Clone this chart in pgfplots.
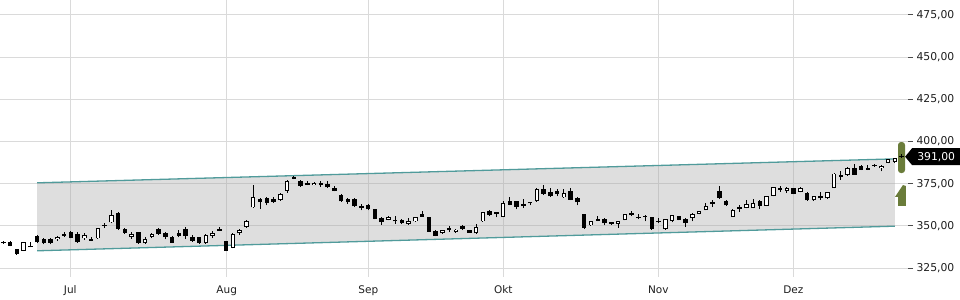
\documentclass[border=0pt]{standalone}
\usepackage{fontspec}
\setmainfont{DejaVu Sans}
\usepackage{pgfplots}
\usepackage{pgfplotstable}
\pgfplotsset{compat=1.18}
\definecolor{chan}{RGB}{80,155,155}
\definecolor{olv}{RGB}{106,124,58}
\definecolor{gridc}{RGB}{218,218,218}
\definecolor{lab}{RGB}{30,30,30}

\pgfplotstableread{
o h l c
340.0 341.0 339.5 339.6
340.3 340.8 337.8 338.1
336.0 336.5 333.0 333.2
335.1 340.5 335.0 340.3
337.8 340.7 337.3 337.3
344.0 344.7 339.8 340.2
342.0 343.0 339.0 339.8
342.0 343.0 339.0 340.0
342.1 344.0 341.3 343.6
345.4 346.3 343.3 344.2
346.2 347.0 342.5 342.7
345.2 346.2 340.0 340.3
342.5 345.5 341.5 344.5
342.0 343.3 341.0 341.1
342.5 349.0 342.3 348.8
350.6 351.5 348.6 350.0
352.0 359.5 351.5 356.5
357.6 358.0 347.5 348.0
348.4 349.0 345.2 346.0
343.3 346.2 342.3 345.2
346.2 346.5 339.5 339.7
339.7 343.3 339.5 342.1
343.6 345.5 342.6 345.2
348.0 348.6 344.6 345.2
345.6 346.2 341.9 343.3
343.3 344.0 339.8 340.1
345.6 347.6 343.1 344.2
348.0 349.6 342.1 344.0
343.6 344.5 340.5 341.1
343.3 343.6 339.5 339.7
339.7 345.0 339.5 344.8
344.0 346.9 342.7 346.0
348.4 349.3 346.8 347.2
340.9 341.2 335.0 335.3
336.9 345.5 336.7 345.2
345.6 348.2 344.5 347.6
349.6 353.5 348.8 352.8
360.9 374.4 360.5 367.1
365.7 366.5 359.9 364.1
366.5 367.0 362.1 363.5
365.7 366.8 363.8 364.1
365.3 369.6 364.8 368.9
370.8 377.4 369.6 376.8
379.2 379.8 377.5 377.8
376.8 377.2 373.2 373.6
375.2 376.4 374.0 374.2
374.2 375.8 374.0 375.6
375.2 376.4 373.2 374.0
374.8 376.4 372.6 372.8
372.4 373.4 370.4 370.6
368.5 368.7 364.3 364.5
365.9 366.5 363.0 364.1
366.1 366.3 361.3 361.5
361.5 362.9 359.1 360.5
362.1 362.9 359.1 359.7
359.9 360.1 353.8 354.0
354.6 355.0 350.6 352.2
353.6 355.6 353.2 355.0
353.6 355.6 351.2 352.6
353.4 354.0 351.0 351.6
351.0 354.6 350.6 352.6
352.6 355.2 352.4 355.0
357.0 358.6 355.3 355.5
355.0 355.2 346.4 346.6
347.2 347.4 343.8 344.0
345.6 347.8 345.4 347.6
349.0 350.0 346.6 347.4
346.2 348.0 346.0 347.8
350.0 350.2 347.4 348.2
347.4 347.6 345.8 346.0
345.6 351.0 345.4 349.4
352.6 358.4 352.4 358.2
358.9 359.5 355.9 356.5
358.2 358.4 355.0 357.3
355.5 365.0 355.3 363.5
364.9 366.8 362.2 362.5
364.5 365.0 359.7 361.3
363.1 365.9 360.5 361.7
364.2 364.4 362.2 363.3
364.5 372.3 364.3 372.0
372.0 374.4 368.5 368.9
370.1 372.5 367.2 367.5
370.8 372.0 367.5 368.9
366.8 372.0 366.6 369.6
370.4 372.4 365.3 365.5
366.5 367.3 362.1 363.9
357.0 357.2 348.4 348.6
350.2 352.8 350.0 352.6
353.8 356.1 352.8 353.0
354.2 354.6 350.2 351.4
352.0 352.2 350.6 351.0
351.0 353.0 349.0 352.8
353.4 357.2 353.2 357.0
357.7 358.5 355.8 356.5
355.5 356.8 353.8 354.6
356.1 356.3 352.6 355.5
355.0 355.2 347.8 348.0
353.0 354.5 351.4 352.2
348.0 354.2 347.8 354.0
353.0 356.5 352.0 356.3
355.8 356.0 353.2 353.4
354.2 354.4 349.2 351.6
354.6 357.4 352.6 357.0
357.0 358.7 356.8 358.5
359.3 363.3 359.1 361.5
364.1 365.5 361.1 362.9
370.4 373.8 366.1 366.5
364.9 365.1 361.9 362.1
355.5 359.7 355.3 359.5
360.9 362.5 358.3 359.9
360.5 365.5 360.3 363.0
360.5 365.9 360.3 363.5
364.9 365.5 359.9 361.9
361.9 367.8 361.7 367.6
367.6 373.2 367.4 373.0
372.6 373.8 370.2 371.4
370.6 373.0 369.4 372.4
372.4 372.6 368.8 369.0
370.2 373.0 369.8 372.4
369.6 369.8 364.9 365.1
365.1 367.8 364.9 367.6
367.9 369.9 365.5 366.3
366.3 370.2 365.9 369.8
372.4 381.2 372.2 381.0
380.4 382.4 377.4 379.0
380.4 384.9 379.8 384.3
384.3 386.9 380.2 380.4
385.7 385.9 383.1 383.3
384.3 386.3 383.1 383.3
386.3 386.9 384.9 385.3
384.1 386.3 382.3 385.7
387.3 389.9 387.1 389.7
387.7 390.3 387.5 390.1
391.4 392.5 390.2 391.0
}\candles

\begin{document}
\begin{tikzpicture}
\useasboundingbox (0,0) rectangle (960bp,300bp);
\begin{axis}[
  at={(0,23bp)}, anchor=south west,
  scale only axis, width=908bp, height=277bp,
  xmin=-0.49, xmax=133.93, ymin=319.67, ymax=483.89,
  axis x line*=bottom, axis y line*=right,
  axis line style={draw=none},
  xtick={9.92,33.07,54.04,74.02,96.96,116.96},
  xticklabels={Jul,Aug,Sep,Okt,Nov,Dez},
  ytick={325,350,375,400,425,450,475},
  grid=major, grid style={gridc, line width=1bp},
  xtick style={draw=none},
  ytick style={draw=black!70, line width=1bp},
  tick align=outside, major tick length=5bp,
  xticklabel style={font=\fontsize{10.5bp}{12bp}\selectfont, text=lab},
  yticklabel style={font=\fontsize{10.8bp}{12bp}\selectfont, text=lab},
  /pgf/number format/.cd, fixed, fixed zerofill, precision=2, use comma, 1000 sep={}, assume math mode=true,
]
% channel
\addplot[fill=black!35, fill opacity=0.37, draw=none, forget plot]
  coordinates {(5,375.5) (132,389.7) (132,349.8) (5,335.2)} -- cycle;
\addplot[chan, line width=1.3bp, forget plot] coordinates {(5,375.5) (132,389.7)};
\addplot[chan, line width=1.3bp, forget plot] coordinates {(5,335.2) (132,349.8)};
% markers at right
\fill[olv, rounded corners=3bp] (axis cs:132.45,399.7) rectangle (axis cs:133.49,381.3);
\fill[olv] (axis cs:132.0,367.1) -- (axis cs:133.18,374.2) -- (axis cs:133.63,373.6)
   -- (axis cs:133.63,361.8) -- (axis cs:132.45,361.8) -- (axis cs:132.45,367.1) -- cycle;
% wicks
\addplot[draw=none, mark=none, forget plot,
  error bars/.cd, y dir=plus, y explicit, error mark=none,
  error bar style={draw=black, line width=1bp}]
  table[x expr=\coordindex, y=l, y error plus expr={\thisrow{h}-\thisrow{l}}] {\candles};
% bodies (black)
\addplot[draw=none, mark=none, forget plot,
  error bars/.cd, y dir=plus, y explicit, error mark=none,
  error bar style={draw=black, line width=4.5bp}]
  table[x expr=\coordindex, y expr={min(\thisrow{o},\thisrow{c})},
        y error plus expr={max(abs(\thisrow{c}-\thisrow{o}),0.6)}] {\candles};
% hollow interiors
\addplot[draw=none, mark=none, forget plot,
  error bars/.cd, y dir=plus, y explicit, error mark=none,
  error bar style={draw=white, line width=2.5bp}]
  table[x expr=\coordindex, y expr={\thisrow{c}>\thisrow{o} ? \thisrow{o}+0.55 : 0},
        y error plus expr={\thisrow{c}>\thisrow{o} ? max(\thisrow{c}-\thisrow{o}-1.1,0.01) : 0.01}] {\candles};
\coordinate (lastpt) at (axis cs:133.5,391);
\end{axis}
\fill[black] (lastpt) -- ++(7bp,8.5bp) -- ++(60bp,0) -- ++(0,-17bp) -- ++(-60bp,0) -- cycle;
\node[anchor=west, inner sep=0pt, text=white, font=\fontsize{10.8bp}{12bp}\selectfont] at ([xshift=12bp]lastpt) {391,00};
\end{tikzpicture}
\end{document}
